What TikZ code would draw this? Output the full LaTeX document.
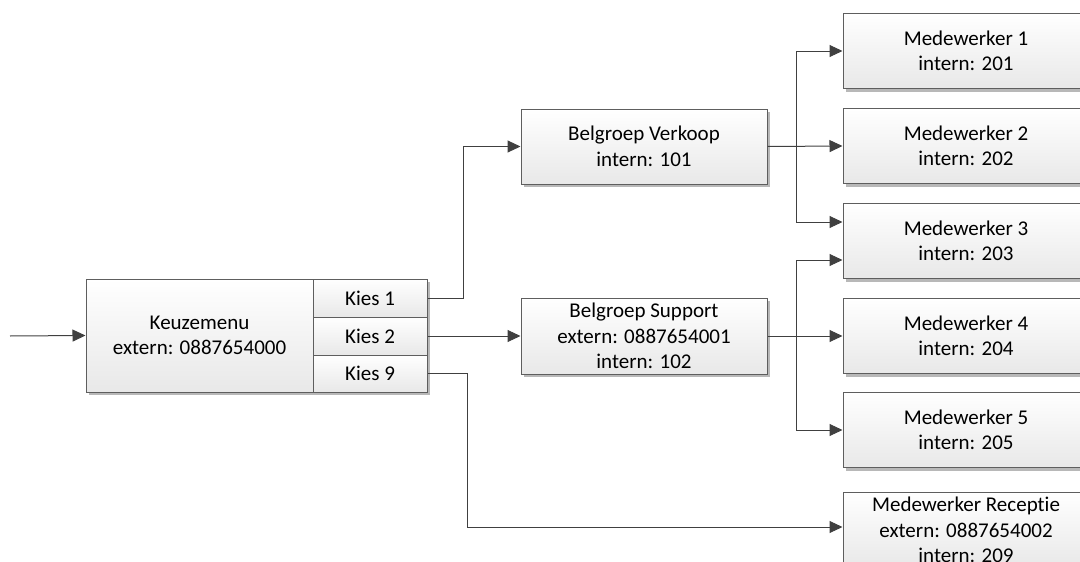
\documentclass[tikz,border=0pt]{standalone}
\usepackage{fontspec}
\setmainfont{Carlito}[Ligatures=NoCommon]
\usetikzlibrary{arrows.meta,shadows,calc}
\definecolor{boxline}{HTML}{5E5E5E}
\definecolor{conn}{HTML}{404040}
\begin{document}
\begin{tikzpicture}[x=1pt,y=-1pt,
  box/.style={draw=boxline, line width=1pt, top color=white, bottom color=black!9,
    drop shadow={shadow xshift=3pt, shadow yshift=-3pt, fill=black!28, opacity=1},
    align=center, inner sep=0pt, font=\fontsize{21}{25.5}\selectfont,
    minimum width=246pt, minimum height=75pt},
  kies/.style={box, minimum width=114pt, minimum height=38pt},
  conline/.style={draw=conn, line width=1pt},
  arr/.style={conline, -{Triangle[length=13pt,width=12pt]}}]
\useasboundingbox (0,0) rectangle (1080,562);
% Keuzemenu group
\node[box, minimum width=227pt, minimum height=113pt] (keuze) at (199.5,335.5) {Keuzemenu\\extern: 0887654000};
\node[kies] (kies1) at (370,298) {Kies 1};
\node[kies] (kies2) at (370,336) {Kies 2};
\node[kies, minimum height=37pt] (kies9) at (370,373.5) {Kies 9};
% Belgroepen
\node[box] (verkoop) at (644,146.5) {Belgroep Verkoop\\intern: 101};
\node[box, minimum height=76pt] (support) at (644,336) {Belgroep Support\\extern: 0887654001\\intern: 102};
% Medewerkers
\node[box] (med1) at (966,51) {Medewerker 1\\intern: 201};
\node[box] (med2) at (966,146) {Medewerker 2\\intern: 202};
\node[box] (med3) at (966,241) {Medewerker 3\\intern: 203};
\node[box] (med4) at (966,336) {Medewerker 4\\intern: 204};
\node[box] (med5) at (966,430) {Medewerker 5\\intern: 205};
\node[box, minimum height=76pt] (recep) at (966,530) {Medewerker Receptie\\extern: 0887654002\\intern: 209};
% connectors
\coordinate (start) at (10,336);
\draw[arr] (start) -- (keuze.west);
\draw[arr] (kies1.east) -- ++(36,0) |- (verkoop.west);
\draw[arr] (kies2.east) -- (support.west);
\draw[arr] (kies9.east) -- ++(40,0) |- ($(recep.west)+(0,-3)$);
\coordinate (bv) at (796,146.5);
\coordinate (bs) at (796,336);
\draw[arr] (verkoop.east) -- (med2.west);
\draw[arr] (bv) |- (med1.west);
\draw[arr] (bv) |- ($(med3.west)+(0,-19)$);
\draw[arr] (support.east) -- (med4.west);
\draw[arr] (bs) |- ($(med3.west)+(0,19)$);
\draw[arr] (bs) |- (med5.west);
\end{tikzpicture}
\end{document}
